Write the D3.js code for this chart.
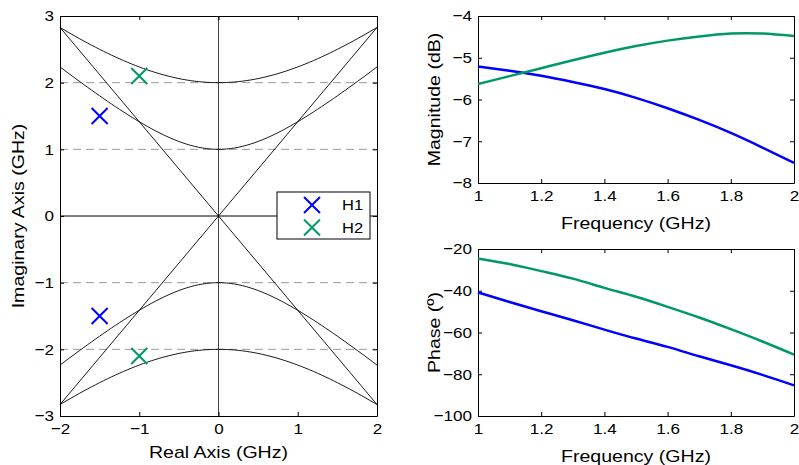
<!DOCTYPE html>
<meta charset="utf-8">
<script src="https://d3js.org/d3.v7.min.js"></script>
<style>
  body { margin: 0; background: #fff; }
  text { font-family: "Liberation Sans", Arial, sans-serif; fill: #000; }
</style>
<div id="viz"></div>
<script>

// pole plot data
var realTicks = [-2, -1, 0, 1, 2];
var imagTicks = [-3, -2, -1, 0, 1, 2, 3];
var dampLevels = [1, 2];          // hyperbola vertices (GHz)
var dashLevels = [-2, -1, 1, 2];
var slopeLines = [Math.SQRT2, -Math.SQRT2];
var poles = [
  {name: "H1", re: -1.5, im: 1.5},
  {name: "H1", re: -1.5, im: -1.5},
  {name: "H2", re: -1, im: 2.1},
  {name: "H2", re: -1, im: -2.1}
];
var seriesNames = ["H1", "H2"];
var seriesColors = ["#0000ff", "#009966"];

// frequency responses
var freq = [1.0, 1.1, 1.2, 1.3, 1.4, 1.5, 1.6, 1.7, 1.8, 1.9, 2.0];
var magH1 = [-5.21, -5.31, -5.43, -5.58, -5.75, -5.96, -6.21, -6.49, -6.80, -7.15, -7.52];
var magH2 = [-5.63, -5.44, -5.25, -5.06, -4.88, -4.72, -4.59, -4.49, -4.42, -4.42, -4.48];
var phH1 = [-40.8, -45.4, -49.8, -54.1, -58.6, -62.9, -66.9, -71.4, -75.7, -80.3, -85.3];
var phH2 = [-24.5, -27.2, -30.6, -34.2, -38.6, -42.9, -47.7, -52.8, -58.4, -64.3, -70.6];
var freqTicks = [1, 1.2, 1.4, 1.6, 1.8, 2];
var magTicks = [-8, -7, -6, -5, -4];
var phTicks = [-100, -80, -60, -40, -20];

var W = 799, H = 465;
var svg = d3.select("#viz").append("svg")
  .attr("width", W).attr("height", H);

function fmt(v) { return String(v).replace("-", "\u2212"); }

// the original figure is a bit wider than tall, text included
function stretch(sel, k) {
  sel.each(function() {
    var n = this.getComputedTextLength();
    d3.select(this).attr("textLength", n * k).attr("lengthAdjust", "spacingAndGlyphs");
  });
}

function boxAxes(g, x, y, xt, yt) {
  var w = x.range()[1] - x.range()[0], h = y.range()[0] - y.range()[1];
  g.append("g").attr("transform", "translate(0," + h + ")")
    .call(d3.axisBottom(x).tickValues(xt).tickSize(-4).tickSizeOuter(0).tickPadding(7).tickFormat(fmt));
  g.append("g")
    .call(d3.axisTop(x).tickValues(xt).tickSize(-4).tickSizeOuter(0).tickFormat(""));
  g.append("g")
    .call(d3.axisLeft(y).tickValues(yt).tickSize(-4).tickSizeOuter(0).tickPadding(6).tickFormat(fmt));
  g.append("g").attr("transform", "translate(" + w + ",0)")
    .call(d3.axisRight(y).tickValues(yt).tickSize(-4).tickSizeOuter(0).tickFormat(""));
  g.selectAll(".domain").attr("stroke", "#000").attr("stroke-width", 1);
  g.selectAll(".tick line").attr("stroke", "#000");
  g.selectAll(".tick text").style("font-size", "15.5px").attr("fill", "#000")
    .style("font-family", "Liberation Sans, Arial, sans-serif")
    .call(stretch, 1.1);
}

// ---------- left: pole plot ----------
var L = {left: 60, top: 16, w: 317, h: 400};
var gl = svg.append("g").attr("transform", "translate(" + L.left + "," + L.top + ")");
var xr = d3.scaleLinear().domain([-2, 2]).range([0, L.w]);
var yi = d3.scaleLinear().domain([-3, 3]).range([L.h, 0]);

gl.selectAll(".dash").data(dashLevels).enter().append("line")
  .attr("x1", 0).attr("x2", L.w)
  .attr("y1", function(d) { return yi(d); }).attr("y2", function(d) { return yi(d); })
  .attr("stroke", "#9a9a9a").attr("stroke-width", 1).attr("stroke-dasharray", "8,5");

gl.append("line").attr("x1", xr(0)).attr("x2", xr(0)).attr("y1", 0).attr("y2", L.h)
  .attr("stroke", "#444").attr("stroke-width", 1);
gl.append("line").attr("x1", 0).attr("x2", L.w).attr("y1", yi(0)).attr("y2", yi(0))
  .attr("stroke", "#000").attr("stroke-width", 1);

var xs = d3.range(-2, 2.0001, 0.05);
var hyp = d3.line().x(function(d) { return xr(d[0]); }).y(function(d) { return yi(d[1]); });
dampLevels.forEach(function(a) {
  [1, -1].forEach(function(s) {
    gl.append("path")
      .attr("d", hyp(xs.map(function(x) { return [x, s * Math.sqrt(x * x + a * a)]; })))
      .attr("fill", "none").attr("stroke", "#000").attr("stroke-width", 0.9);
  });
});
slopeLines.forEach(function(k) {
  gl.append("line").attr("x1", xr(-2)).attr("y1", yi(-2 * k))
    .attr("x2", xr(2)).attr("y2", yi(2 * k))
    .attr("stroke", "#000").attr("stroke-width", 0.9);
});

boxAxes(gl, xr, yi, realTicks, imagTicks);

function drawX(g, cx, cy, r, color) {
  g.append("path")
    .attr("d", "M" + (cx - r) + "," + (cy - r) + "L" + (cx + r) + "," + (cy + r) +
               "M" + (cx - r) + "," + (cy + r) + "L" + (cx + r) + "," + (cy - r))
    .attr("stroke", color).attr("stroke-width", 2).attr("fill", "none");
}
poles.forEach(function(p) {
  drawX(gl, xr(p.re), yi(p.im), 8, seriesColors[seriesNames.indexOf(p.name)]);
});

// legend
var lg = svg.append("g").attr("transform", "translate(277,192)");
lg.append("rect").attr("width", 93).attr("height", 47)
  .attr("fill", "#fff").attr("stroke", "#000").attr("stroke-width", 1);
seriesNames.forEach(function(n, i) {
  drawX(lg, 35, 13 + i * 22.5, 8, seriesColors[i]);
  lg.append("text").attr("x", 65).attr("y", 13 + i * 22.5).attr("dy", "0.36em")
    .style("font-size", "15px").text(n).call(stretch, 1.1);
});

gl.append("text").attr("x", L.w / 2).attr("y", L.h + 42)
  .attr("text-anchor", "middle").style("font-size", "17px").text("Real Axis (GHz)")
  .call(stretch, 1.15);
gl.append("text").attr("transform", "rotate(-90)")
  .attr("x", -L.h / 2).attr("y", -36)
  .attr("text-anchor", "middle").style("font-size", "17px").text("Imaginary Axis (GHz)")
  .call(stretch, 1.15);

// ---------- right: frequency responses ----------
function respPanel(top, h, yDom, yTicks, s1, s2, ylab) {
  var P = {left: 478, w: 316};
  var g = svg.append("g").attr("transform", "translate(" + P.left + "," + top + ")");
  var x = d3.scaleLinear().domain([1, 2]).range([0, P.w]);
  var y = d3.scaleLinear().domain(yDom).range([h, 0]);
  boxAxes(g, x, y, freqTicks, yTicks);
  var line = d3.line().curve(d3.curveNatural)
    .x(function(d, i) { return x(freq[i]); }).y(function(d) { return y(d); });
  [s1, s2].forEach(function(s, i) {
    g.append("path").attr("d", line(s)).attr("fill", "none")
      .attr("stroke", seriesColors[i]).attr("stroke-width", 2.5);
  });
  g.append("text").attr("x", P.w / 2).attr("y", h + 46)
    .attr("text-anchor", "middle").style("font-size", "17px").text("Frequency (GHz)")
    .call(stretch, 1.15);
  g.append("text").attr("transform", "rotate(-90)")
    .attr("x", -h / 2).attr("y", -38)
    .attr("text-anchor", "middle").style("font-size", "17px").text(ylab)
    .call(stretch, 1.15);
}

respPanel(16, 167, [-8, -4], magTicks, magH1, magH2, "Magnitude (dB)");
respPanel(249, 167, [-100, -20], phTicks, phH1, phH2, "Phase (\u00ba)");

</script>
